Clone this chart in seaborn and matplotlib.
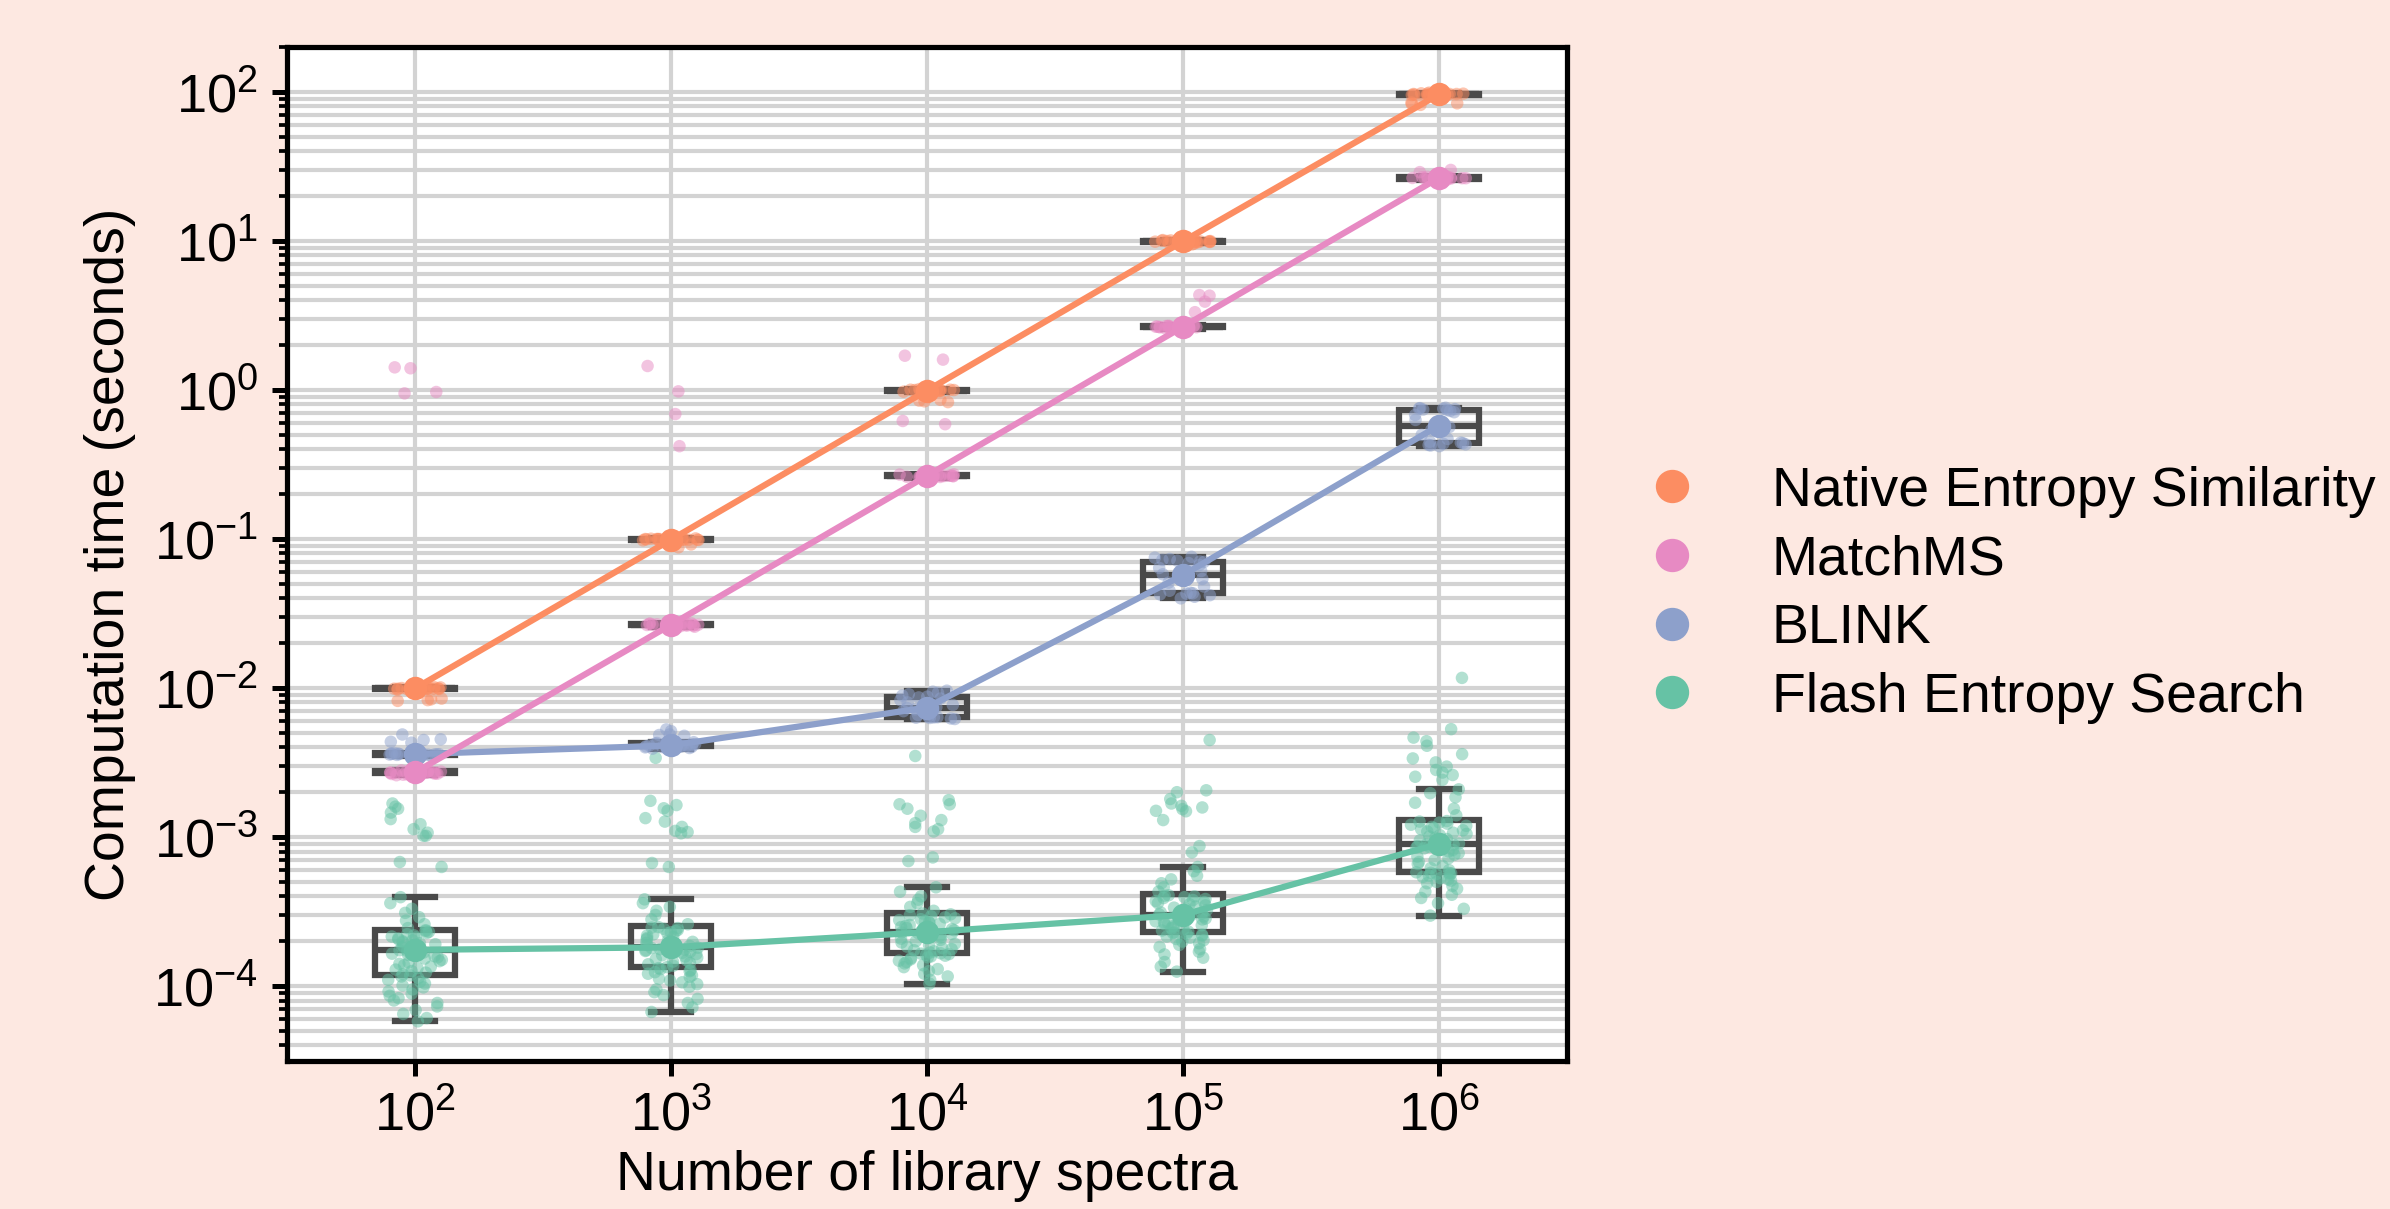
import numpy as np
import pandas as pd
import seaborn as sns
import matplotlib.pyplot as plt
from matplotlib.lines import Line2D
from matplotlib.ticker import LogLocator, NullFormatter

# library sizes (x categories) and methods
sizes = [r"$\mathdefault{10^{2}}$", r"$\mathdefault{10^{3}}$", r"$\mathdefault{10^{4}}$",
         r"$\mathdefault{10^{5}}$", r"$\mathdefault{10^{6}}$"]
methods = ["Flash Entropy Search", "Native Entropy Similarity", "BLINK", "MatchMS"]
legend_order = ["Native Entropy Similarity", "MatchMS", "BLINK", "Flash Entropy Search"]
colors = ["#66c2a5", "#fc8d62", "#8da0cb", "#e78ac3"]

# computation time per query, milliseconds, one list per library size
flash_ms = [
    [0.058, 0.061, 0.065, 0.069, 0.073, 0.077, 0.080, 0.083, 0.086, 0.089, 0.092, 0.095, 0.098, 0.101, 0.104,
     0.107, 0.110, 0.113, 0.116, 0.118, 0.120, 0.123, 0.126, 0.129, 0.132, 0.135, 0.138, 0.141, 0.144, 0.147,
     0.150, 0.153, 0.156, 0.159, 0.162, 0.165, 0.168, 0.170, 0.172, 0.174, 0.176, 0.179, 0.182, 0.185, 0.188,
     0.191, 0.194, 0.197, 0.200, 0.203, 0.206, 0.209, 0.212, 0.215, 0.219, 0.223, 0.227, 0.231, 0.234, 0.237,
     0.245, 0.26, 0.275, 0.29, 0.31, 0.33, 0.36, 0.395, 0.63, 0.68, 1.02, 1.02, 1.07, 1.13, 1.22, 1.32, 1.46,
     1.55, 1.60, 1.68],
    [0.067, 0.072, 0.077, 0.082, 0.087, 0.091, 0.095, 0.099, 0.103, 0.106, 0.109, 0.112, 0.115, 0.118, 0.121,
     0.124, 0.126, 0.128, 0.130, 0.132, 0.134, 0.137, 0.140, 0.143, 0.146, 0.149, 0.152, 0.155, 0.158, 0.161,
     0.164, 0.167, 0.170, 0.172, 0.174, 0.176, 0.177, 0.178, 0.180, 0.181, 0.183, 0.186, 0.189, 0.192, 0.195,
     0.198, 0.202, 0.206, 0.210, 0.214, 0.218, 0.222, 0.226, 0.230, 0.234, 0.238, 0.242, 0.245, 0.247, 0.249,
     0.26, 0.28, 0.30, 0.32, 0.34, 0.36, 0.382, 0.63, 0.67, 1.06, 1.08, 1.10, 1.17, 1.27, 1.34, 1.50, 1.56,
     1.64, 1.75, 3.4],
    [0.104, 0.110, 0.116, 0.121, 0.126, 0.130, 0.134, 0.138, 0.142, 0.145, 0.148, 0.151, 0.154, 0.156, 0.158,
     0.160, 0.162, 0.164, 0.165, 0.166, 0.168, 0.171, 0.174, 0.177, 0.180, 0.184, 0.188, 0.192, 0.196, 0.200,
     0.204, 0.208, 0.212, 0.215, 0.218, 0.221, 0.224, 0.226, 0.228, 0.229, 0.231, 0.234, 0.237, 0.241, 0.245,
     0.249, 0.253, 0.257, 0.261, 0.265, 0.269, 0.273, 0.277, 0.281, 0.285, 0.289, 0.294, 0.299, 0.303, 0.307,
     0.32, 0.34, 0.36, 0.38, 0.40, 0.43, 0.46, 0.69, 0.73, 1.09, 1.13, 1.17, 1.24, 1.30, 1.39, 1.55, 1.66,
     1.66, 1.77, 3.5],
    [0.125, 0.135, 0.145, 0.155, 0.163, 0.170, 0.177, 0.183, 0.189, 0.194, 0.199, 0.203, 0.207, 0.211, 0.215,
     0.218, 0.221, 0.224, 0.227, 0.229, 0.232, 0.236, 0.240, 0.244, 0.248, 0.252, 0.256, 0.260, 0.264, 0.268,
     0.272, 0.276, 0.280, 0.284, 0.287, 0.290, 0.293, 0.295, 0.297, 0.299, 0.302, 0.307, 0.312, 0.318, 0.324,
     0.330, 0.336, 0.342, 0.348, 0.354, 0.360, 0.366, 0.372, 0.378, 0.384, 0.390, 0.395, 0.400, 0.404, 0.407,
     0.43, 0.46, 0.49, 0.52, 0.55, 0.59, 0.63, 0.79, 0.87, 1.30, 1.49, 1.50, 1.54, 1.58, 1.62, 1.68, 1.80,
     2.00, 2.06, 4.48],
    [0.297, 0.33, 0.36, 0.39, 0.41, 0.43, 0.45, 0.47, 0.49, 0.50, 0.51, 0.52, 0.53, 0.54, 0.55, 0.56, 0.565,
     0.57, 0.573, 0.576, 0.58, 0.60, 0.62, 0.64, 0.66, 0.68, 0.70, 0.72, 0.74, 0.76, 0.78, 0.80, 0.82, 0.84,
     0.85, 0.86, 0.87, 0.88, 0.89, 0.895, 0.905, 0.93, 0.95, 0.97, 0.99, 1.01, 1.03, 1.05, 1.07, 1.09, 1.11,
     1.13, 1.15, 1.17, 1.19, 1.21, 1.23, 1.25, 1.27, 1.28, 1.40, 1.55, 1.70, 1.85, 1.97, 2.09, 2.42, 2.54,
     2.61, 2.71, 2.82, 2.97, 3.17, 3.37, 3.60, 4.10, 4.40, 4.65, 5.30, 11.7],
]
native_ms = [
    [9.9, 10.0, 9.8, 10.1, 9.95, 10.05, 9.9, 10.0, 9.85, 10.15, 9.95, 10.0, 9.9, 10.1, 10.0, 9.95, 10.2, 9.8,
     10.05, 9.9, 8.2, 8.3, 8.4, 8.5],
    [99, 100, 98, 101, 99.5, 100.5, 99, 98.5, 101.5, 100, 99, 98, 100, 101, 99.5, 100, 98.5, 99, 100.5, 99,
     88, 90, 92],
    [990, 1000, 980, 1010, 995, 1005, 985, 1000, 975, 1015, 990, 1000, 995, 1005, 990, 985, 1010, 1000, 990,
     995, 840, 830, 850, 860],
    [9900, 10000, 9800, 10100, 9950, 10050, 9850, 10000, 9900, 10150, 9950, 10000, 9900, 10050, 9850, 10000,
     9950, 9900, 10000, 9750, 9600, 9500],
    [96500, 97000, 96000, 98000, 95500, 97500, 96500, 99000, 96000, 97000, 95000, 96500, 98000, 97000, 96000,
     96500, 97500, 95500, 84000, 83000, 82000, 85000],
]
blink_ms = [
    [3.59, 3.55, 3.62, 3.57, 3.60, 3.52, 3.65, 3.58, 3.61, 3.56, 3.63, 3.59, 3.54, 3.66, 3.60, 3.58, 3.62,
     3.57, 3.60, 3.61, 4.88, 4.48, 4.53, 4.30, 4.36],
    [3.92, 3.96, 4.00, 4.03, 4.05, 4.07, 4.08, 4.09, 4.10, 4.12, 4.14, 4.17, 4.20, 4.24, 4.28, 4.33, 4.02,
     4.06, 4.11, 4.15, 4.78, 4.88, 5.14, 5.28, 4.84],
    [6.20, 6.25, 6.30, 6.33, 6.36, 6.38, 6.42, 6.6, 6.8, 7.0, 7.2, 7.35, 7.45, 7.7, 8.0, 8.3, 8.5, 8.65,
     8.75, 8.9, 9.1, 9.3, 9.45, 9.6],
    [40.0, 41.0, 42.0, 42.5, 43.0, 43.3, 43.6, 45, 48, 51, 54, 56.5, 58, 61, 64, 67, 69, 70.3, 70.7, 71.5,
     72.5, 73.5, 75, 76],
    [420, 425, 428, 432, 436, 440, 444, 450, 470, 500, 540, 565, 590, 630, 680, 710, 725, 735, 740, 745, 750,
     752, 756, 760],
]
matchms_ms = [
    [2.70, 2.65, 2.75, 2.68, 2.72, 2.60, 2.80, 2.70, 2.66, 2.74, 2.71, 2.69, 2.62, 2.78, 2.70, 2.73, 2.67,
     2.75, 2.64, 2.72, 1420, 950, 1400, 970],
    [26.5, 26.0, 27.0, 26.3, 26.8, 25.8, 27.2, 26.5, 26.2, 26.9, 26.4, 26.6, 25.9, 27.1, 26.5, 26.7, 26.1,
     26.8, 26.3, 26.6, 1450, 980, 690, 420],
    [265, 260, 270, 263, 268, 258, 272, 265, 262, 269, 264, 266, 259, 271, 265, 267, 261, 268, 263, 266,
     1700, 1600, 940, 620, 590],
    [2640, 2600, 2700, 2630, 2680, 2580, 2720, 2650, 2620, 2690, 2640, 2660, 2590, 2710, 2650, 2670, 2610,
     2680, 2630, 2660, 4300, 4340, 3920, 3330],
    [26400, 26000, 27000, 26300, 26800, 25800, 27200, 26500, 26200, 26900, 26400, 26600, 25900, 27100,
     26500, 26700, 26100, 26800, 29000, 30000],
]

rows = []
for method, groups in zip(methods, [flash_ms, native_ms, blink_ms, matchms_ms]):
    for size, vals in zip(sizes, groups):
        for v in vals:
            rows.append((size, method, v / 1000.0))
df = pd.DataFrame(rows, columns=["size", "method", "time"])

bg = "#fde8e1"
plt.rcParams["font.family"] = ["Liberation Sans", "DejaVu Sans"]
plt.rcParams["mathtext.fontset"] = "custom"
plt.rcParams["mathtext.rm"] = "Liberation Sans"

np.random.seed(3)
fig = plt.figure(figsize=(2390 / 300, 1209 / 300), dpi=300, facecolor=bg)
ax = fig.add_axes([0.1201, 0.1224, 0.5355, 0.8387])

# boxes (no fill), then the single runs, then the medians joined by lines
sns.boxplot(data=df, x="size", y="time", hue="method", order=sizes, hue_order=methods,
            palette=colors, dodge=False, width=0.31, showfliers=False,
            linecolor="#4a4a4a", linewidth=1.5, legend=False, ax=ax)
for p in ax.patches:
    p.set_facecolor("none")

sns.stripplot(data=df, x="size", y="time", hue="method", order=sizes, hue_order=methods,
              palette=colors, dodge=False, jitter=0.11, size=3, alpha=0.5, zorder=3,
              legend=False, ax=ax)

sns.pointplot(data=df, x="size", y="time", hue="method", order=sizes, hue_order=methods,
              palette=colors, estimator="median", errorbar=None, markers="o",
              markersize=4.5, linewidth=1.5, zorder=4, legend=False, ax=ax)

ax.set_yscale("log")
ax.set_ylim(10 ** -4.503, 10 ** 2.302)
ax.set_xlim(-0.5, 4.5)
ax.yaxis.set_major_locator(LogLocator(base=10, numticks=20))
ax.yaxis.set_minor_locator(LogLocator(base=10, subs=np.arange(2, 10), numticks=20))
ax.yaxis.set_minor_formatter(NullFormatter())

ax.set_axisbelow(True)
ax.grid(True, which="both", axis="y", color="lightgray", linewidth=1)
ax.grid(True, which="major", axis="x", color="lightgray", linewidth=1)

ax.tick_params(which="major", length=3.5, width=1.2, labelsize=13, color="black")
ax.tick_params(which="minor", length=2, width=0.9)
for s in ax.spines.values():
    s.set_linewidth(1.25)
    s.set_color("black")

ax.set_xlabel("Number of library spectra", fontsize=13.3, labelpad=2)
ax.set_ylabel("Computation time (seconds)", fontsize=13.3)

handles = [Line2D([], [], marker="o", linestyle="", markersize=7,
                  color=colors[methods.index(m)]) for m in legend_order]
ax.legend(handles, legend_order, loc="center left", bbox_to_anchor=(1.0, 0.46),
          frameon=False, fontsize=13.3, labelspacing=0.3)

fig.savefig("out.png", dpi=300, facecolor=bg)
